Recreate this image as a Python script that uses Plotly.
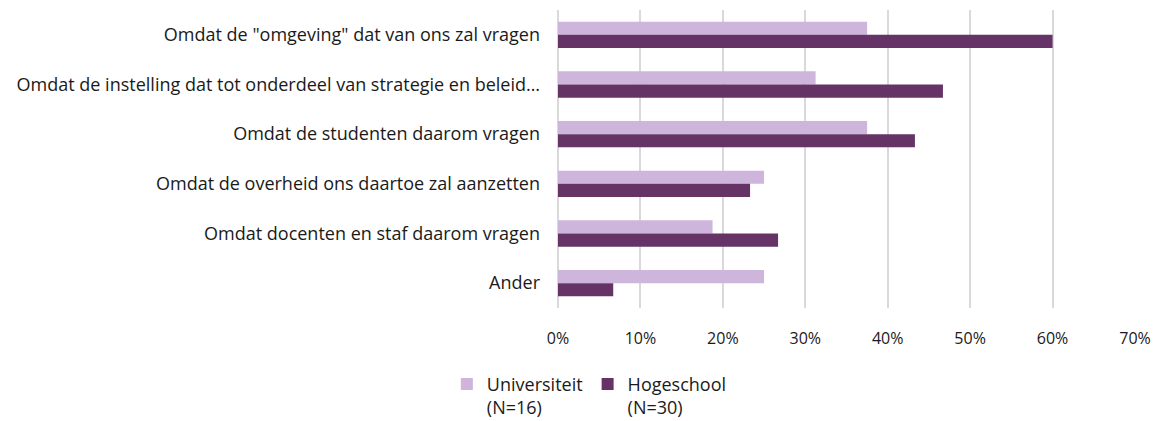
import plotly.graph_objects as go

categories = [
    'Omdat de "omgeving" dat van ons zal vragen',
    'Omdat de instelling dat tot onderdeel van strategie en beleid…',
    'Omdat de studenten daarom vragen',
    'Omdat de overheid ons daartoe zal aanzetten',
    'Omdat docenten en staf daarom vragen',
    'Ander',
]
universiteit = [37.5, 31.25, 37.5, 25.0, 18.75, 25.0]
hogeschool = [60.0, 46.7, 43.3, 23.3, 26.7, 6.7]
series_names = ['Universiteit<br>(N=16)', 'Hogeschool<br>(N=30)']
tick_vals = [0, 10, 20, 30, 40, 50, 60, 70]
tick_text = ['0%', '10%', '20%', '30%', '40%', '50%', '60%', '70%']

font_family = 'Open Sans, Liberation Sans, Arial, sans-serif'
txt = '#1a1a1a'

fig = go.Figure()
fig.add_trace(go.Bar(y=categories, x=universiteit, orientation='h', name=series_names[0],
                     marker=dict(color='#CDB5DB', line=dict(width=0))))
fig.add_trace(go.Bar(y=categories, x=hogeschool, orientation='h', name=series_names[1],
                     marker=dict(color='#653366', line=dict(width=0))))

fig.update_layout(
    width=1161, height=421,
    margin=dict(l=550, r=34, t=2, b=121),
    barmode='group', bargap=0.47, bargroupgap=0,
    plot_bgcolor='white', paper_bgcolor='white',
    font=dict(family=font_family, size=18, color=txt),
    showlegend=True,
    legend=dict(orientation='h', xref='container', yref='container', x=0.378, y=0.15,
                xanchor='left', yanchor='top', font=dict(size=18, color=txt),
                traceorder='normal', itemwidth=30, valign='top', tracegroupgap=0),
)
fig.update_xaxes(range=[0, 70], tickvals=tick_vals, ticktext=tick_text, automargin=False,
                 showgrid=True, gridcolor='#D9D9D9', gridwidth=1.5,
                 zeroline=True, zerolinecolor='#D9D9D9', zerolinewidth=1.5,
                 showline=False, ticks='', ticklabelstandoff=19,
                 tickfont=dict(size=16, color=txt))
fig.update_yaxes(autorange='reversed', showgrid=False, ticks='', showline=False,
                 ticklabelstandoff=17, automargin=False,
                 tickfont=dict(size=18, color=txt))

fig.write_html('out.html')
